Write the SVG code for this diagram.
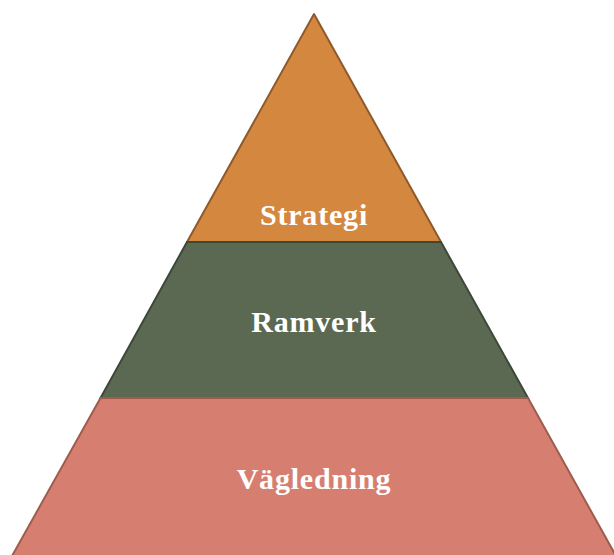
<svg xmlns="http://www.w3.org/2000/svg" width="614" height="555" viewBox="0 0 614 555">
<style>
.lbl{font-family:"Liberation Serif","DejaVu Serif",serif;font-weight:bold;font-size:30px;fill:#ffffff;text-anchor:middle;letter-spacing:0.8px}
</style>
<rect width="614" height="555" fill="#ffffff"/>
<g id="strategi">
<polygon points="314,14 441,242 187,242" fill="#D4883F" stroke="#8E5A2C" stroke-width="2" stroke-linejoin="round"/>
<text class="lbl" x="314" y="225">Strategi</text>
</g>
<g id="ramverk">
<polygon points="187,242 441,242 528,398 100.5,398" fill="#5B6953" stroke="#3E4838" stroke-width="2"/>
<text class="lbl" x="314" y="332">Ramverk</text>
</g>
<g id="vagledning">
<polygon points="100.5,398 528,398 616,556 12,556" fill="#D67F70" stroke="#9E5C4F" stroke-width="2"/>
<text class="lbl" x="314" y="489">Vägledning</text>
</g>
<g id="connectors"/>
</svg>
